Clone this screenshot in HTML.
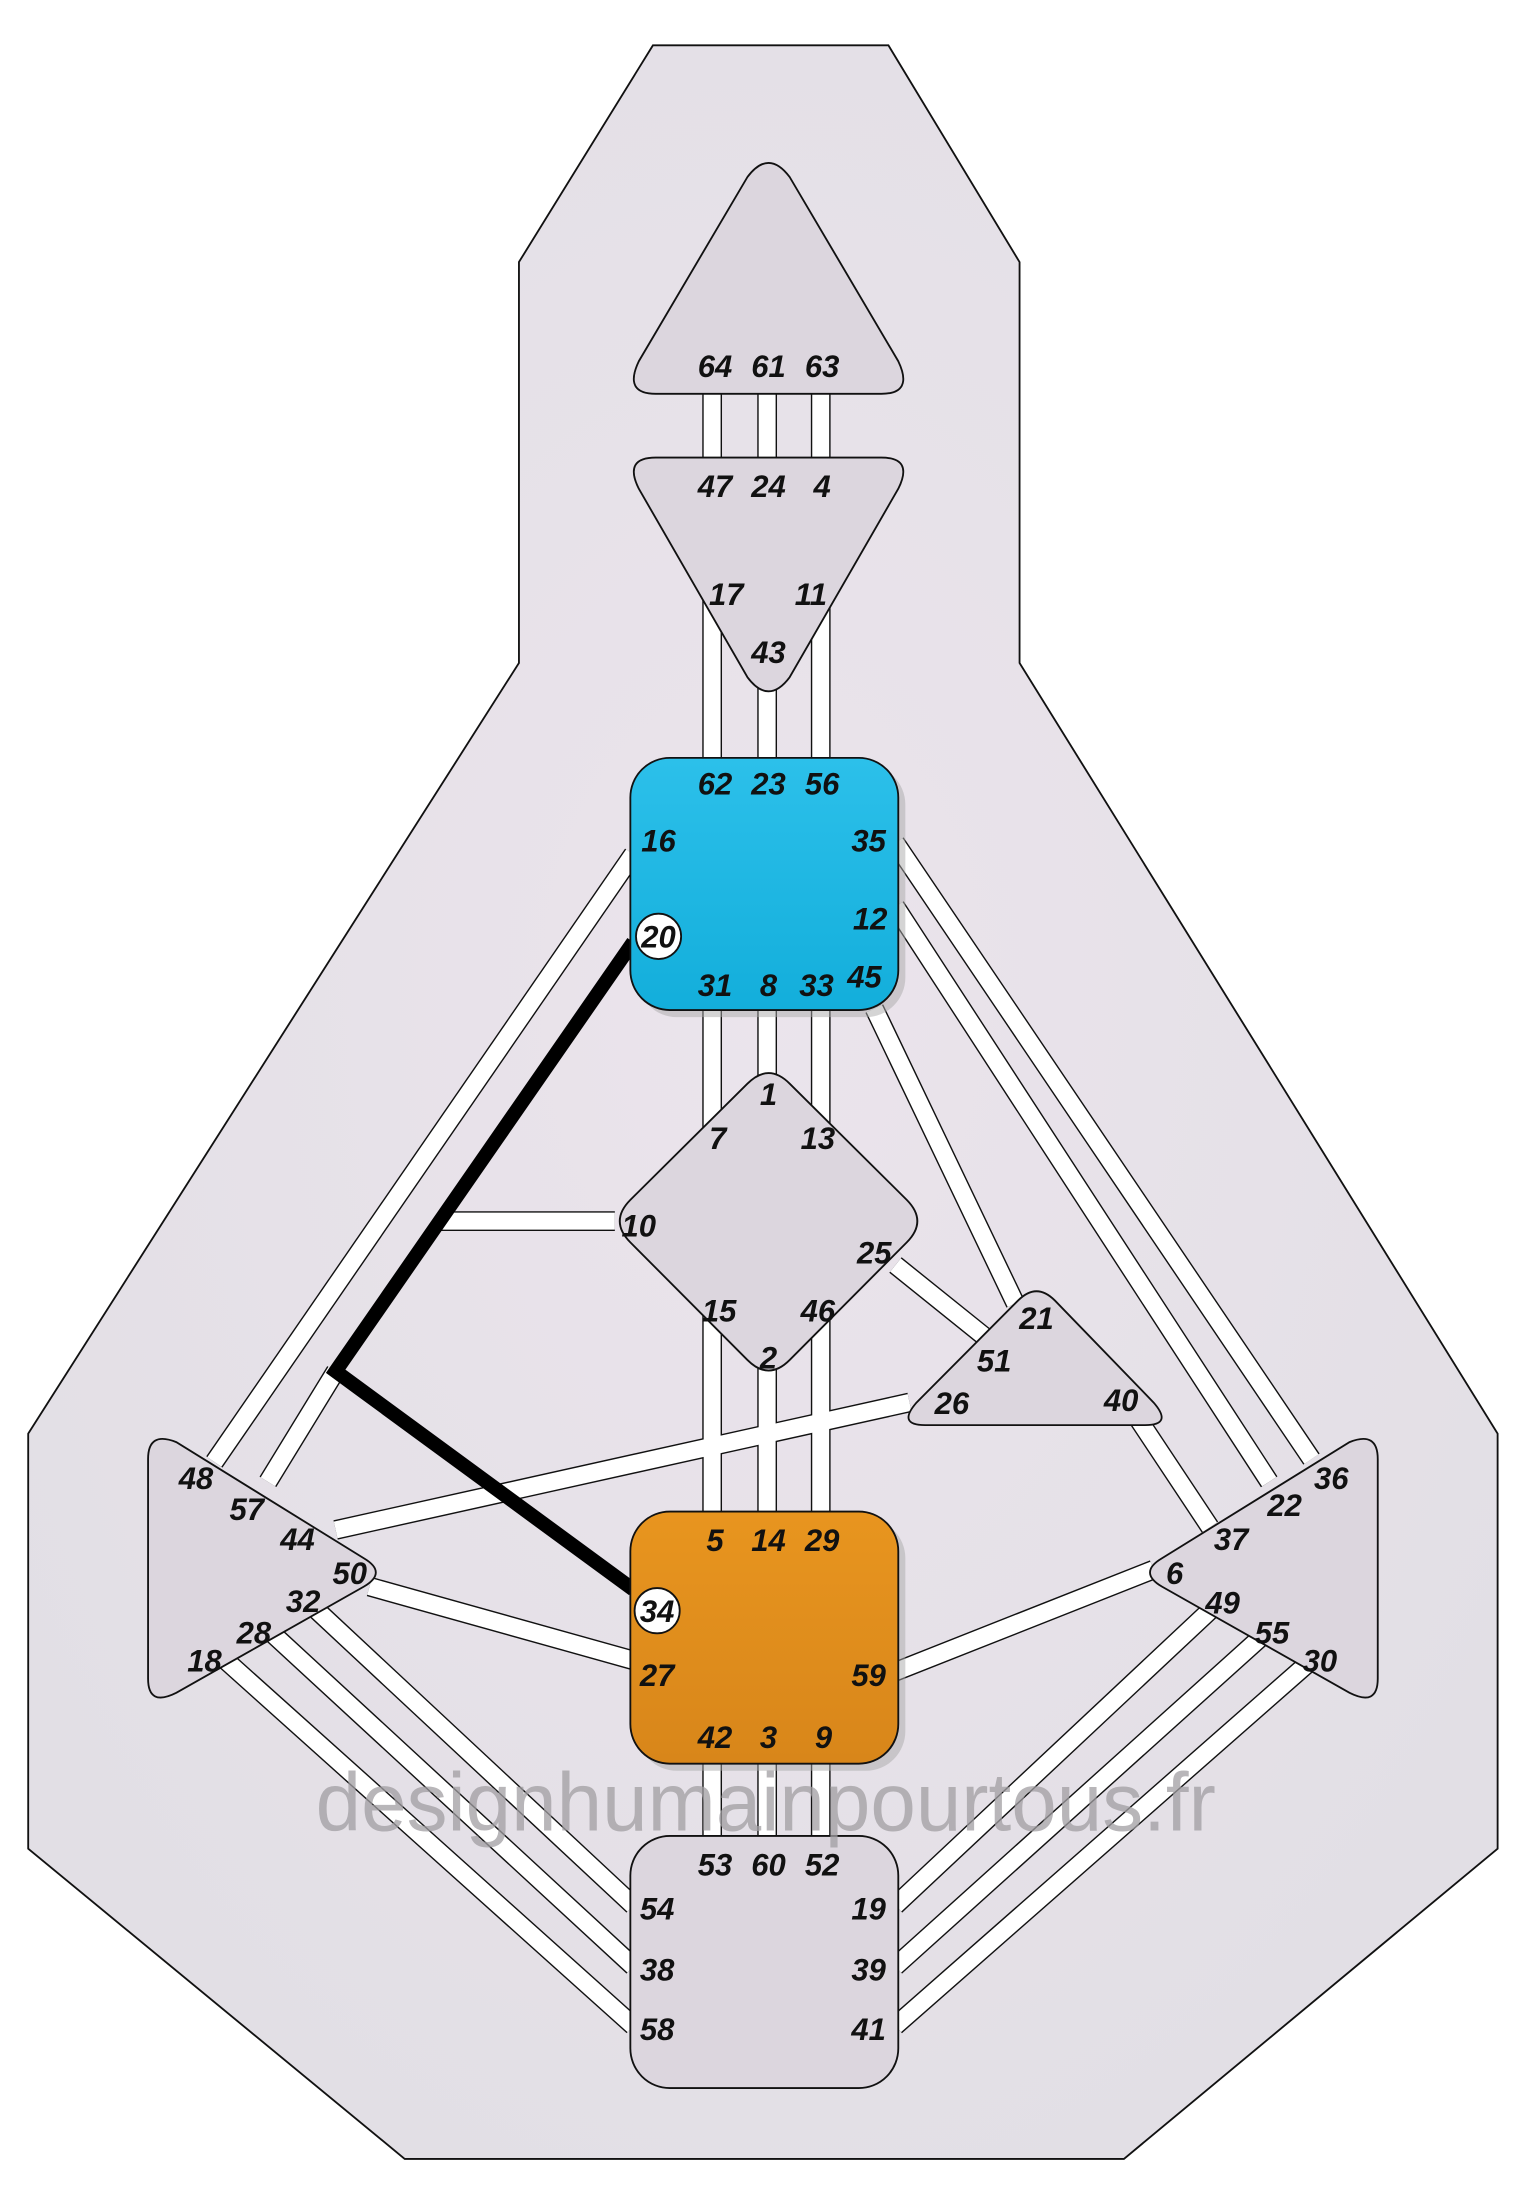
<!DOCTYPE html>
<html><head><meta charset="utf-8"><style>
html,body{margin:0;padding:0;background:#fff;}
svg{display:block;}
text{font-family:"Liberation Sans",sans-serif;font-style:italic;font-weight:bold;font-size:22px;fill:#111;text-anchor:middle;}
.wm{font-family:"Liberation Sans",sans-serif;font-style:normal;font-weight:normal;font-size:58px;fill:#a09da2;fill-opacity:.75;}
</style></head><body>
<svg width="1523" height="2200" viewBox="0 0 1080 1553" preserveAspectRatio="none" xmlns="http://www.w3.org/2000/svg">
<defs>
<radialGradient id="bg" cx="50%" cy="45%" r="60%"><stop offset="0" stop-color="#ebe4ec"/><stop offset="1" stop-color="#e2dfe5"/></radialGradient>
<linearGradient id="blue" x1="0" y1="0" x2="0" y2="1"><stop offset="0" stop-color="#2cc0ea"/><stop offset="1" stop-color="#13aedb"/></linearGradient>
<linearGradient id="orng" x1="0" y1="0" x2="0" y2="1"><stop offset="0" stop-color="#e8951f"/><stop offset="1" stop-color="#d8861a"/></linearGradient>
<g id="ch">
<line x1="505" y1="275" x2="505" y2="540"/><line x1="544" y1="275" x2="544" y2="540"/><line x1="582" y1="275" x2="582" y2="540"/>
<line x1="505" y1="710" x2="505" y2="800"/><line x1="544" y1="710" x2="544" y2="800"/><line x1="582" y1="710" x2="582" y2="800"/>
<line x1="505" y1="920" x2="505" y2="1070"/><line x1="544" y1="920" x2="544" y2="1070"/><line x1="582" y1="920" x2="582" y2="1070"/>
<line x1="505" y1="1240" x2="505" y2="1300"/><line x1="544" y1="1240" x2="544" y2="1300"/><line x1="582" y1="1240" x2="582" y2="1300"/>
<line x1="449" y1="603" x2="152" y2="1032"/>
<line x1="238" y1="968" x2="190" y2="1046"/>
<line x1="312" y1="862" x2="436" y2="862"/>
<line x1="645" y1="990" x2="238" y2="1080"/>
<line x1="262" y1="1120" x2="449" y2="1172"/>
<line x1="225" y1="1137" x2="449" y2="1345"/>
<line x1="193" y1="1153" x2="449" y2="1388"/>
<line x1="160" y1="1172" x2="449" y2="1430"/>
<line x1="635" y1="595" x2="930" y2="1030"/>
<line x1="635" y1="640" x2="900" y2="1046"/>
<line x1="620" y1="712" x2="720" y2="920"/>
<line x1="635" y1="893" x2="700" y2="945"/>
<line x1="806" y1="1000" x2="858" y2="1078"/>
<line x1="635" y1="1180" x2="818" y2="1108"/>
<line x1="860" y1="1135" x2="635" y2="1345"/>
<line x1="895" y1="1155" x2="635" y2="1388"/>
<line x1="930" y1="1172" x2="635" y2="1430"/>
</g>
</defs>
<polygon points="463,32 630,32 723,185 723,468 1062,1012 1062,1305 797,1524 287,1524 20,1305 20,1012 368,468 368,185" fill="url(#bg)" stroke="#111" stroke-width="1.3"/>
<use href="#ch" stroke="#111" stroke-width="14"/>
<use href="#ch" stroke="#fff" stroke-width="12"/>
<polyline points="449,665 238,968 449,1122" fill="none" stroke="#000" stroke-width="10" stroke-linejoin="miter"/>
<g stroke="#111" stroke-width="1.3" fill="#dcd6de">
<path d="M530,125 Q545,105 560,125 L637,255 Q648,278 625,278 L465,278 Q442,278 453,255 Z"/>
<path d="M465,323 L625,323 Q648,323 637,345 L560,478 Q545,498 530,478 L453,345 Q442,323 465,323 Z"/>
<path d="M530,765 Q545,750 560,765 L643,847 Q658,862 643,877 L560,960 Q545,975 530,960 L447,877 Q432,862 447,847 Z"/>
<path d="M722,918 Q735,905 748,918 L818,990 Q832,1006 812,1006 L656,1006 Q636,1006 650,990 Z"/>
<path d="M105,1030 Q105,1010 125,1018 L258,1100 Q275,1110 258,1120 L125,1195 Q105,1205 105,1185 Z"/>
<path d="M977,1030 Q977,1010 957,1018 L824,1100 Q807,1110 824,1120 L957,1195 Q977,1205 977,1185 Z"/>
<rect x="452" y="540" width="190" height="178" rx="28" fill="#aaa" stroke="none" opacity=".5"/>
<rect x="452" y="1072" width="190" height="178" rx="28" fill="#aaa" stroke="none" opacity=".5"/>
<rect x="447" y="535" width="190" height="178" rx="28" fill="url(#blue)"/>
<rect x="447" y="1067" width="190" height="178" rx="28" fill="url(#orng)"/>
<rect x="447" y="1296" width="190" height="178" rx="28"/>
<circle cx="467" cy="661" r="16" fill="#fff"/>
<circle cx="466" cy="1137" r="16" fill="#fff"/>
</g>
<text x="543" y="1292" class="wm">designhumainpourtous.fr</text>
<g>
<text x="507" y="266">64</text><text x="545" y="266">61</text><text x="583" y="266">63</text>
<text x="507" y="351">47</text><text x="545" y="351">24</text><text x="583" y="351">4</text>
<text x="515" y="427">17</text><text x="575" y="427">11</text><text x="545" y="468">43</text>
<text x="507" y="561">62</text><text x="545" y="561">23</text><text x="583" y="561">56</text>
<text x="467" y="601">16</text><text x="616" y="601">35</text>
<text x="467" y="669">20</text><text x="617" y="656">12</text>
<text x="507" y="703">31</text><text x="545" y="703">8</text><text x="579" y="703">33</text><text x="613" y="697">45</text>
<text x="545" y="780">1</text><text x="509" y="811">7</text><text x="580" y="811">13</text>
<text x="453" y="873">10</text><text x="620" y="892">25</text>
<text x="510" y="933">15</text><text x="580" y="933">46</text><text x="545" y="966">2</text>
<text x="735" y="938">21</text><text x="705" y="968">51</text><text x="675" y="998">26</text><text x="795" y="996">40</text>
<text x="507" y="1095">5</text><text x="545" y="1095">14</text><text x="583" y="1095">29</text>
<text x="466" y="1145">34</text><text x="466" y="1190">27</text><text x="616" y="1190">59</text>
<text x="507" y="1234">42</text><text x="545" y="1234">3</text><text x="584" y="1234">9</text>
<text x="507" y="1324">53</text><text x="545" y="1324">60</text><text x="583" y="1324">52</text>
<text x="466" y="1355">54</text><text x="466" y="1398">38</text><text x="466" y="1440">58</text>
<text x="616" y="1355">19</text><text x="616" y="1398">39</text><text x="616" y="1440">41</text>
<text x="139" y="1051">48</text><text x="175" y="1073">57</text><text x="211" y="1094">44</text><text x="248" y="1118">50</text>
<text x="215" y="1138">32</text><text x="180" y="1160">28</text><text x="145" y="1180">18</text>
<text x="944" y="1051">36</text><text x="911" y="1070">22</text><text x="873" y="1094">37</text><text x="833" y="1118">6</text>
<text x="867" y="1139">49</text><text x="902" y="1160">55</text><text x="936" y="1180">30</text>
</g>
</svg>
</body></html>
